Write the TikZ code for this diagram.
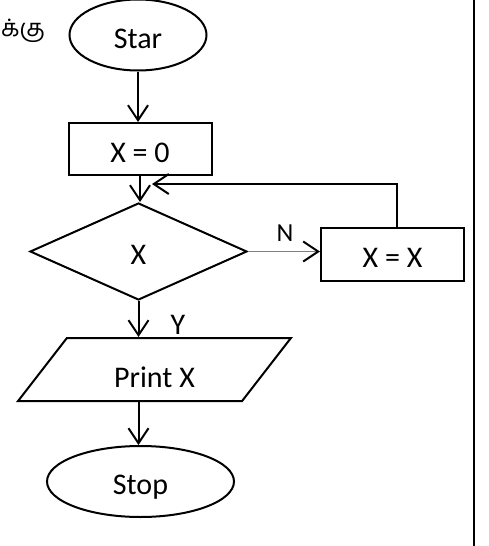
\documentclass[tikz,border=0pt]{standalone}
\usepackage{fontspec}
\setmainfont{Carlito}
\newfontfamily\tamilfont[Script=Tamil]{Hind Madurai}
\usetikzlibrary{shapes.geometric, arrows.meta}
\tikzstyle{startstop} = [ellipse, text centered, draw=black, line width=2pt, inner sep=0pt, text height=26pt, text depth=0pt, font=\fontsize{30}{34}\selectfont]
\tikzstyle{process} = [rectangle, text centered, draw=black, line width=2pt, inner sep=0pt, text height=26pt, text depth=0pt, font=\fontsize{30}{34}\selectfont]
\tikzstyle{decision} = [diamond, text centered, draw=black, line width=2pt, inner sep=0pt, text height=26pt, text depth=0pt, font=\fontsize{30}{34}\selectfont]
\tikzstyle{io} = [trapezium, trapezium left angle=58, trapezium right angle=122, trapezium stretches=true, text centered, draw=black, line width=2pt, inner sep=0pt, text height=36pt, text depth=0pt, font=\fontsize{30}{34}\selectfont]
\tikzstyle{lbl} = [inner sep=0pt, font=\fontsize{30}{34}\selectfont]
\tikzstyle{arrow} = [line width=2pt, -{Straight Barb[length=15pt, width=20pt]}]
\tikzstyle{thinarrow} = [line width=0.7pt, draw=gray, -{Straight Barb[length=15pt, width=20pt, line width=2pt, color=black]}]

\begin{document}
\begin{tikzpicture}[x=1pt, y=-1pt, node distance=110pt]
\useasboundingbox (0,0) rectangle (489,546);

\node (tamil) [inner sep=0pt, anchor=west, font=\tamilfont\fontsize{24}{28}\selectfont] at (1,31) {க்கு};

\node (start) [startstop, minimum width=137pt, minimum height=71pt] at (138,35) {Star};
\node (init) [process, minimum width=143pt, minimum height=52pt, below of=start, xshift=2pt, yshift=-4pt] {X = 0};
\node (dec) [decision, minimum width=217pt, minimum height=97pt, below of=init, xshift=-1.5pt, yshift=7.5pt] {X};
\node (upd) [process, minimum width=143pt, minimum height=53pt, right of=dec, xshift=144pt, yshift=-3pt] {X = X};
\node (prt) [io, minimum width=273pt, minimum height=63pt, below of=dec, xshift=16pt, yshift=-8pt] {Print X};
\node (stop) [startstop, minimum width=187pt, minimum height=71pt, below of=prt, xshift=-14pt, yshift=-2pt] {Stop};

\node (nlab) [lbl, font=\fontsize{26}{30}\selectfont] at (285,233) {N};
\node (ylab) [lbl] at (178,325) {Y};

\coordinate (back) at (152,184);

\draw [arrow] (start.south) -- (start.south |- init.north);
\draw [arrow] (init.south) -- (init.south |- dec.north);
\draw [thinarrow] (dec.east) -- (dec.east -| upd.west);
\draw [arrow] ([xshift=4.5pt]upd.north) |- (back);
\draw [arrow] (dec.south) -- (dec.south |- prt.north);
\draw [arrow] (dec.south |- prt.south) -- (dec.south |- stop.north);

\draw [line width=2.2pt] (474,0) -- (474,546);

\end{tikzpicture}
\end{document}
